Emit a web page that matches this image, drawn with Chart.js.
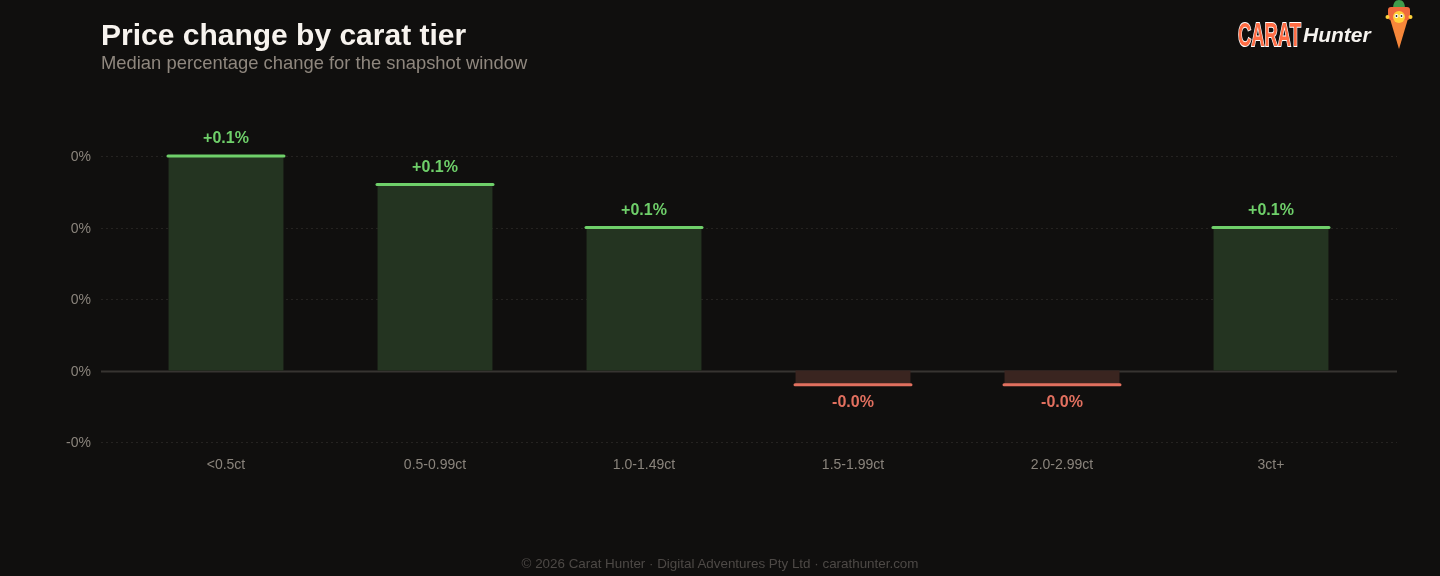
<!DOCTYPE html>
<html>
<head>
<meta charset="utf-8">
<script src="https://cdn.jsdelivr.net/npm/chart.js@4"></script>
<style>
  html, body { margin: 0; padding: 0; background: #100f0e; }
  body { width: 1440px; height: 576px; position: relative; overflow: hidden; font-family: "Liberation Sans", Arial, sans-serif; }
  #wrap { position: absolute; left: 0; top: 0; width: 1440px; height: 576px; }
  #title { position: absolute; left: 101px; top: 18px; font-size: 30px; font-weight: bold; color: #f7f3ee; white-space: nowrap; }
  #subtitle { position: absolute; left: 101px; top: 52px; font-size: 18.4px; color: #8f877e; white-space: nowrap; }
  #footer { position: absolute; left: 0; width: 1440px; top: 556px; text-align: center; font-size: 13.4px; color: #4d4946; }
  #logoC { position: absolute; left: 1238px; top: 15px; font-family: "Liberation Sans", Arial, sans-serif; font-weight: bold; font-size: 34px; color: #ff6d45; -webkit-text-stroke: 2px #ffffff; paint-order: stroke fill; transform: scaleX(0.54); transform-origin: left top; white-space: nowrap; }
  #logoH { position: absolute; left: 1303px; top: 23px; font-family: "Liberation Sans", Arial, sans-serif; font-style: italic; font-weight: bold; font-size: 21px; color: #f5f2ee; white-space: nowrap; }
  #carrot { position: absolute; left: 1384px; top: 0px; }
</style>
</head>
<body>
<div id="wrap"><canvas id="c" width="1440" height="576"></canvas></div>
<div id="title">Price change by carat tier</div>
<div id="subtitle">Median percentage change for the snapshot window</div>
<div id="logoC">CARAT</div>
<div id="logoH">Hunter</div>
<svg id="carrot" width="30" height="52" viewBox="0 0 30 52">
  <path d="M9 9 C9 3 11 0 15 0 C19 0 21 3 21 9 Z" fill="#3f9b4b"/>
  <path d="M4 12 L26 12 L15 49 Z" fill="#f6873a"/>
  <rect x="4" y="7" width="22" height="13" rx="3" fill="#f06a3c"/>
  <circle cx="15" cy="17" r="6" fill="#ffd23a"/>
  <circle cx="12.5" cy="16" r="2" fill="#ffffff"/>
  <circle cx="17.5" cy="16" r="2" fill="#ffffff"/>
  <circle cx="12.5" cy="16" r="0.9" fill="#222"/>
  <circle cx="17.5" cy="16" r="0.9" fill="#222"/>
  <circle cx="3.5" cy="17" r="2" fill="#ffd23a"/>
  <circle cx="26.5" cy="17" r="2" fill="#ffd23a"/>
</svg>
<div id="footer">© 2026 Carat Hunter · Digital Adventures Pty Ltd · carathunter.com</div>
<script>
const categories = ["<0.5ct", "0.5-0.99ct", "1.0-1.49ct", "1.5-1.99ct", "2.0-2.99ct", "3ct+"];
const medianChangePct = [0.12, 0.104, 0.08, -0.008, -0.008, 0.08];
const yTickMin = -0.04;
const yTickMax = 0.12;
const yTickStep = 0.04;

const POS_FILL = "#243421", POS_LINE = "#6fd06a";
const NEG_FILL = "#3a2520", NEG_LINE = "#e2705f";
const GRID_LEFT = 101, GRID_RIGHT = 1397;

function fmtLabel(v) { return (v >= 0 ? "+" : "") + v.toFixed(1) + "%"; }

const wideGrid = {
  id: "wideGrid",
  beforeDatasetsDraw(chart) {
    const ctx = chart.ctx;
    const ys = chart.scales.y;
    ctx.save();
    ys.ticks.forEach(t => {
      const py = Math.round(ys.getPixelForValue(t.value)) + 0.5;
      ctx.beginPath();
      if (Math.abs(t.value) < 1e-9) {
        ctx.setLineDash([]);
        ctx.strokeStyle = "#373431";
        ctx.lineWidth = 2;
      } else {
        ctx.setLineDash([2, 3]);
        ctx.strokeStyle = "#252321";
        ctx.lineWidth = 1;
      }
      ctx.moveTo(GRID_LEFT, py);
      ctx.lineTo(GRID_RIGHT, py);
      ctx.stroke();
    });
    ctx.restore();
  }
};

const edgeAndLabels = {
  id: "edgeAndLabels",
  afterDatasetsDraw(chart) {
    const ctx = chart.ctx;
    const meta = chart.getDatasetMeta(0);
    const data = chart.data.datasets[0].data;
    ctx.save();
    meta.data.forEach((bar, i) => {
      const v = data[i];
      const pos = v >= 0;
      const half = bar.width / 2;
      ctx.strokeStyle = pos ? POS_LINE : NEG_LINE;
      ctx.lineWidth = 3;
      ctx.lineCap = "round";
      ctx.beginPath();
      ctx.moveTo(bar.x - half - 0.5, bar.y);
      ctx.lineTo(bar.x + half + 0.5, bar.y);
      ctx.stroke();
      ctx.fillStyle = pos ? POS_LINE : NEG_LINE;
      ctx.font = "bold 16px 'Liberation Sans', Arial, sans-serif";
      ctx.textAlign = "center";
      ctx.textBaseline = "middle";
      ctx.fillText(fmtLabel(v), bar.x, pos ? bar.y - 17 : bar.y + 18);
    });
    ctx.restore();
  }
};

new Chart(document.getElementById("c"), {
  type: "bar",
  data: {
    labels: categories,
    datasets: [{
      data: medianChangePct,
      backgroundColor: medianChangePct.map(v => v >= 0 ? POS_FILL : NEG_FILL),
      borderWidth: 0,
      barPercentage: 0.55,
      categoryPercentage: 1.0
    }]
  },
  options: {
    responsive: false,
    animation: false,
    layout: { padding: { left: 41, right: 64.5, top: 156, bottom: 84 } },
    plugins: { legend: { display: false }, tooltip: { enabled: false }, title: { display: false } },
    scales: {
      x: {
        grid: { display: false, drawTicks: false },
        border: { display: false },
        ticks: { color: "#8a847c", font: { size: 14, family: "'Liberation Sans', Arial, sans-serif" }, padding: 15 },
        afterFit(s) { s.height = 50; }
      },
      y: {
        min: yTickMin, max: yTickMax,
        grid: { display: false, drawTicks: false },
        border: { display: false },
        ticks: {
          stepSize: yTickStep,
          color: "#8a847c",
          font: { size: 14, family: "'Liberation Sans', Arial, sans-serif" },
          padding: 30.5,
          labelOffset: 1.5,
          callback: v => Number(v).toFixed(0) + "%"
        },
        afterFit(s) { s.width = 80.5; }
      }
    }
  },
  plugins: [wideGrid, edgeAndLabels]
});
</script>
</body>
</html>
